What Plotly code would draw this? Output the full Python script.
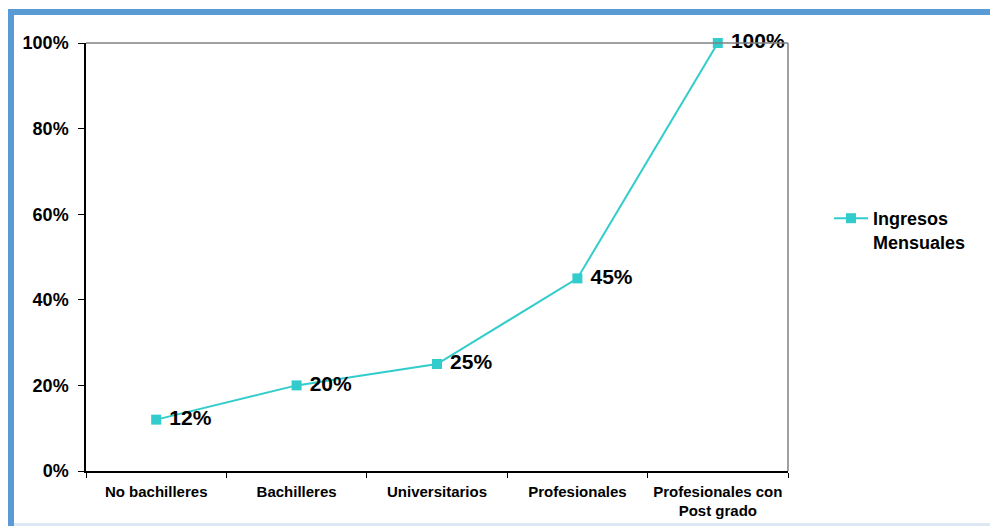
import plotly.graph_objects as go

# Income by education level (relative to the top level)
categories = ["No bachilleres", "Bachilleres", "Universitarios", "Profesionales",
              "Profesionales con<br>Post grado"]
ingresos = [12, 20, 25, 45, 100]
labels = ["12%", "20%", "25%", "45%", "100%"]
y_ticks = [0, 20, 40, 60, 80, 100]

FONT = "Liberation Sans, Arial, sans-serif"
TEAL = "#33CCCC"
FRAME = "#5B9BD5"

# plot area in pixels
L, R, T, B = 86, 788, 43, 471
W, H = 990, 526


def px_x(p):
    return (p - L) / (R - L)


def px_y(p):
    return (B - p) / (B - T)


fig = go.Figure()
fig.add_trace(go.Scatter(
    x=categories, y=ingresos, mode="lines+markers+text",
    name="<b>Ingresos<br>Mensuales</b>",
    line=dict(color=TEAL, width=2),
    marker=dict(symbol="square", size=10, color=TEAL),
    text=[f"<b> {t}</b>" for t in labels], textposition="middle right",
    textfont=dict(family=FONT, size=21, color="#000000"),
    cliponaxis=False,
))

shapes = [
    # grey top and right borders of the plot area
    dict(type="line", xref="paper", yref="paper", x0=0, x1=1, y0=1, y1=1,
         line=dict(color="#808080", width=1.5)),
    dict(type="line", xref="paper", yref="paper", x0=1, x1=1, y0=0, y1=1,
         line=dict(color="#808080", width=1.5)),
    # blue frame around the slide
    dict(type="rect", xref="paper", yref="paper", x0=px_x(8), x1=px_x(W + 5),
         y0=px_y(15), y1=px_y(9), fillcolor=FRAME, line=dict(width=0), layer="below"),
    dict(type="rect", xref="paper", yref="paper", x0=px_x(8), x1=px_x(14),
         y0=px_y(H + 5), y1=px_y(9), fillcolor=FRAME, line=dict(width=0), layer="below"),
    dict(type="rect", xref="paper", yref="paper", x0=px_x(14), x1=px_x(W + 5),
         y0=px_y(H + 5), y1=px_y(523), fillcolor="#DDE8F4", line=dict(width=0), layer="below"),
]

fig.update_layout(
    width=W, height=H,
    margin=dict(l=L, r=W - R, t=T, b=H - B, autoexpand=False),
    paper_bgcolor="white", plot_bgcolor="white",
    font=dict(family=FONT, color="#000000"),
    showlegend=True,
    legend=dict(x=px_x(829), y=px_y(200), xanchor="left", yanchor="top",
                font=dict(family=FONT, size=18, color="#000000"),
                valign="top", bgcolor="rgba(0,0,0,0)", borderwidth=0,
                itemwidth=34),
    shapes=shapes,
    xaxis=dict(
        type="category", range=[-0.5, 4.5], showgrid=False,
        showline=True, linecolor="#000000", linewidth=1.5,
        ticks="outside", tickson="boundaries", ticklen=5, tickcolor="#000000",
        ticklabelstandoff=6, automargin=False,
        tickfont=dict(family=FONT, size=15, color="#000000"),
        tickvals=categories, ticktext=[f"<b>{c}</b>" for c in categories],
    ),
    yaxis=dict(
        range=[0, 100], showgrid=False, zeroline=False,
        showline=True, linecolor="#000000", linewidth=1.5,
        ticks="outside", ticklen=6, tickcolor="#000000",
        ticklabelstandoff=6, automargin=False,
        tickvals=y_ticks, ticktext=[f"<b>{v}%</b>" for v in y_ticks],
        tickfont=dict(family=FONT, size=18, color="#000000"),
    ),
)

fig.write_html("out.html")
